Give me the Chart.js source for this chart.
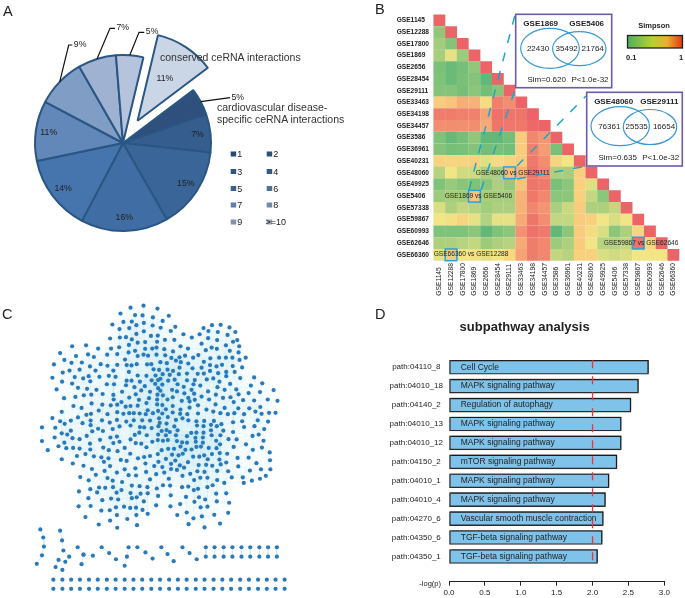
<!DOCTYPE html>
<html>
<head>
<meta charset="utf-8">
<title>ceRNA panels</title>
<script src="https://cdn.jsdelivr.net/npm/chart.js@4/dist/chart.umd.min.js"></script>
<style>
  html, body { margin: 0; padding: 0; background: #fff; }
  body { position: relative; width: 685px; height: 598px; overflow: hidden; }
  canvas { position: absolute; }
  #overlay { position: absolute; left: 0; top: 0; pointer-events: none; font-family: "Liberation Sans", Arial, sans-serif; }
</style>
</head>
<body>
<canvas id="pie-chart" style="left:0;top:0;width:350px;height:290px" width="350" height="290"></canvas>
<canvas id="heat-chart" style="left:370px;top:0;width:315px;height:305px" width="315" height="305"></canvas>
<canvas id="net-chart" style="left:0;top:290px;width:300px;height:308px" width="300" height="308"></canvas>
<canvas id="bar-chart" style="left:385px;top:310px;width:296px;height:288px" width="296" height="288"></canvas>

<svg id="overlay" width="685" height="598" viewBox="0 0 685 598">
  <defs>
    <linearGradient id="simpson-grad">
      <stop offset="0" stop-color="#4fb05f"/>
      <stop offset="0.45" stop-color="#b5d12f"/>
      <stop offset="0.72" stop-color="#eead2c"/>
      <stop offset="1" stop-color="#e03a12"/>
    </linearGradient>
  </defs>

  <g font-size="14.5" fill="#222">
    <text x="3" y="15.5">A</text>
    <text x="375" y="14">B</text>
    <text x="2" y="319">C</text>
    <text x="375" y="319">D</text>
  </g>

  <g font-size="10.5" fill="#333">
    <text x="160" y="61">conserved ceRNA interactions</text>
    <text x="217" y="110.5">cardiovascular disease-</text>
    <text x="217" y="123">specific ceRNA interactions</text>
  </g>

  <!-- dashed links from the picked cells to the venn boxes -->
  <g stroke="#1ba7cc" stroke-width="1.5" stroke-dasharray="9 10" fill="none">
    <line x1="469" y1="190" x2="515" y2="15"/>
    <line x1="481" y1="190" x2="515.7" y2="88"/>
    <line x1="517" y1="166" x2="586" y2="96"/>
    <line x1="517" y1="179" x2="587" y2="166"/>
  </g>

  <!-- venn box 1 -->
  <rect x="515.7" y="14.3" width="96" height="73.4" fill="#fff" stroke="#6a5bab" stroke-width="1.6"/>
  <g fill="none" stroke="#3a97d4" stroke-width="1.2">
    <ellipse cx="550" cy="48.3" rx="29.3" ry="20"/>
    <ellipse cx="579.3" cy="48.7" rx="26.7" ry="17"/>
  </g>
  <g font-size="8" fill="#222" text-anchor="middle">
    <text x="540.7" y="25.5" font-weight="bold">GSE1869</text>
    <text x="586.7" y="25.5" font-weight="bold">GSE5406</text>
    <text x="538" y="51">22430</text>
    <text x="566.7" y="51">35492</text>
    <text x="592.7" y="51">21764</text>
    <text x="546.7" y="81.5">Sim=0.620</text>
    <text x="590" y="81.5">P&lt;1.0e-32</text>
  </g>

  <!-- venn box 2 -->
  <rect x="586.7" y="92.3" width="95.6" height="73.7" fill="#fff" stroke="#6a5bab" stroke-width="1.6"/>
  <g fill="none" stroke="#3a97d4" stroke-width="1.2">
    <ellipse cx="620.2" cy="126.2" rx="29.2" ry="19.5"/>
    <ellipse cx="650" cy="127" rx="26.7" ry="17.5"/>
  </g>
  <g font-size="8" fill="#222" text-anchor="middle">
    <text x="613.7" y="104" font-weight="bold">GSE48060</text>
    <text x="659.3" y="104" font-weight="bold">GSE29111</text>
    <text x="609.3" y="129">76361</text>
    <text x="636.7" y="129">25535</text>
    <text x="664" y="129">16654</text>
    <text x="617.7" y="159.5">Sim=0.635</text>
    <text x="660.7" y="159.5">P&lt;1.0e-32</text>
  </g>

  <!-- colour key -->
  <text x="654" y="28" font-size="7.5" font-weight="bold" fill="#222" text-anchor="middle">Simpson</text>
  <rect x="627.5" y="35.5" width="55" height="12.5" fill="url(#simpson-grad)" stroke="#222" stroke-width="1.3"/>
  <text x="626" y="60" font-size="7.5" font-weight="bold" fill="#222">0.1</text>
  <text x="679" y="60" font-size="7.5" font-weight="bold" fill="#222">1</text>

  <text x="441" y="586" font-size="7.5" fill="#222" text-anchor="end">-log(p)</text>
</svg>

<script>
Chart.defaults.font.family = '"Liberation Sans", Arial, sans-serif';
Chart.defaults.animation = false;
Chart.defaults.plugins.legend.display = false;
Chart.defaults.plugins.tooltip.enabled = false;
Chart.defaults.events = [];

// ---- panel A data
const pieLabels = ['1', '2', '3', '4', '5', '6', '7', '8', '9', '>=10'];
const pieValues = [5, 7, 15, 16, 14, 11, 9, 7, 5, 11];
const pieColors = ['#2f4f7c', '#355d8e', '#3a6598', '#3f6da4', '#4675ad', '#6287b9', '#809dc5', '#9fb2d2', '#b5c4dc', '#cad5e6'];
const pieKeyColors = ['#2a4a72', '#2e5077', '#2f5580', '#335a87', '#3a6290', '#4d6f9b', '#627fa6', '#7488a8', '#8492ab', '#9aa4b8'];

// ---- panel B data: lower triangle of the Simpson matrix, one row per dataset
const gseNames = ['GSE1145', 'GSE12288', 'GSE17800', 'GSE1869', 'GSE2656', 'GSE28454', 'GSE29111', 'GSE33463', 'GSE34198', 'GSE34457',
  'GSE3586', 'GSE36961', 'GSE40231', 'GSE48060', 'GSE49925', 'GSE5406', 'GSE57338', 'GSE59867', 'GSE60993', 'GSE62646', 'GSE66360'];
const simpsonRows = [
  [1],
  [.31, 1],
  [.35, .28, 1],
  [.36, .48, .34, 1],
  [.26, .22, .25, .31, 1],
  [.27, .22, .26, .28, .2, 1],
  [.28, .28, .25, .3, .24, .29, 1],
  [.6, .62, .67, .66, .54, .83, .78, 1],
  [.84, .84, .83, .82, .7, .9, .88, .88, 1],
  [.78, .78, .77, .78, .68, .88, .87, .86, .96, 1],
  [.27, .21, .25, .31, .2, .2, .24, .6, .8, .74, 1],
  [.28, .25, .26, .28, .24, .26, .24, .6, .82, .72, .26, 1],
  [.57, .56, .56, .58, .47, .54, .56, .6, .85, .78, .56, .5, 1],
  [.4, .5, .44, .44, .38, .37, .63, .66, .88, .8, .38, .36, .58, 1],
  [.27, .33, .29, .27, .3, .38, .32, .62, .88, .85, .26, .3, .58, .47, 1],
  [.34, .36, .35, .62, .36, .36, .36, .66, .86, .8, .3, .3, .58, .42, .3, 1],
  [.46, .38, .42, .4, .35, .38, .38, .66, .8, .75, .37, .43, .6, .38, .38, .42, 1],
  [.5, .52, .56, .48, .39, .48, .48, .68, .88, .78, .42, .42, .6, .58, .5, .46, .5, 1],
  [.27, .27, .27, .3, .2, .27, .3, .76, .9, .85, .2, .3, .6, .54, .46, .3, .38, .56, 1],
  [.38, .38, .4, .42, .34, .38, .4, .68, .84, .8, .34, .38, .6, .5, .4, .4, .42, .9, .55, 1],
  [.48, .6, .5, .52, .48, .5, .55, .7, .84, .8, .42, .4, .58, .58, .46, .44, .46, .5, .5, .5, 1]
];
const simpsonStops = [.2, .3, .4, .5, .6, .7, .85, 1];
const simpsonColors = ['#62b877', '#8cc67a', '#b7d37f', '#f2e585', '#f9cb7c', '#f5a275', '#ef7a6b', '#ec6368'];
const pickedPairs = [['GSE1869', 'GSE5406'], ['GSE29111', 'GSE48060'], ['GSE12288', 'GSE66360'], ['GSE59867', 'GSE62646']];
const pickedTexts = ['GSE1869 vs GSE5406', 'GSE48060 vs GSE29111', 'GSE66360 vs GSE12288', 'GSE59867 vs GSE62646'];

// ---- panel C data: nodes read per crop of the picture, [x,y] at 3x inside each crop
const netOrigins = [[30, 295], [160, 295], [30, 415], [160, 415]];
const netNW = [[300,27],[340,21],[383,30],[269,45],[314,50],[337,51],[369,57],[278,71],[304,70],[244,79],[318,81],[341,74],[368,82],[266,93],[296,90],[341,100],[318,108],[363,114],[384,113],[237,122],[267,119],[286,118],[304,125],[322,135],[345,133],[382,132],[163,143],[120,146],[295,142],[240,153],[265,149],[200,153],[345,154],[367,153],[380,150],[83,167],[169,171],[132,176],[187,179],[228,172],[259,170],[294,165],[314,160],[322,176],[340,172],[354,175],[380,172],[96,188],[118,197],[150,196],[283,187],[64,202],[208,201],[229,206],[175,208],[259,203],[288,204],[303,205],[319,201],[351,202],[364,201],[112,221],[143,218],[192,221],[247,221],[295,225],[371,217],[388,219],[91,227],[128,241],[154,245],[171,238],[204,240],[233,237],[254,240],[322,236],[349,237],[377,236],[59,243],[89,255],[120,261],[176,254],[288,252],[303,252],[329,255],[365,251],[385,250],[227,263],[249,263],[286,266],[312,272],[344,269],[376,262],[72,279],[138,274],[166,277],[195,280],[274,286],[333,282],[360,286],[385,275],[95,306],[130,302],[156,297],[179,295],[214,293],[247,296],[316,294],[296,304],[357,306],[383,295],[124,330],[149,336],[180,322],[213,326],[239,328],[248,310],[272,318],[326,311],[349,321],[382,310],[88,348],[202,344],[259,326],[285,332],[300,330],[322,329],[353,343],[382,325],[164,357],[178,354],[229,355],[259,349],[278,354],[296,352],[310,352],[328,353],[347,355],[369,352],[385,345]];
const netNE = [[28,52],[9,68],[48,86],[3,89],[135,90],[161,81],[188,80],[215,88],[34,99],[73,109],[123,109],[150,99],[179,102],[209,111],[233,102],[16,126],[45,126],[99,119],[149,121],[177,127],[226,132],[239,127],[64,146],[129,138],[87,153],[204,143],[245,146],[160,150],[14,155],[41,162],[142,158],[176,154],[216,160],[243,165],[17,174],[36,182],[61,180],[78,175],[103,181],[119,173],[156,183],[183,181],[204,181],[224,181],[246,188],[265,181],[2,195],[22,198],[50,190],[65,195],[88,199],[136,194],[155,204],[175,208],[192,203],[225,207],[254,211],[24,218],[41,222],[61,212],[101,214],[129,212],[155,222],[205,225],[231,225],[9,232],[31,234],[59,232],[84,230],[117,231],[136,230],[180,229],[205,238],[2,246],[46,249],[26,252],[84,251],[108,250],[145,248],[165,245],[248,244],[291,242],[8,264],[55,263],[74,271],[125,267],[104,263],[184,255],[217,262],[316,260],[281,267],[38,280],[2,283],[53,285],[98,280],[178,272],[149,285],[200,280],[236,279],[351,281],[76,291],[106,292],[129,301],[10,297],[173,295],[243,294],[274,290],[309,287],[40,303],[24,310],[88,305],[218,303],[152,310],[333,310],[363,314],[291,313],[257,312],[195,305],[68,314],[92,316],[108,311],[228,318],[40,330],[8,327],[118,328],[172,325],[92,335],[200,336],[19,340],[144,341],[276,337],[242,337],[310,333],[295,347],[64,341],[63,354],[40,350],[8,353],[118,353],[165,347],[187,352],[210,355],[260,355],[337,351],[357,351],[314,354],[230,352],[85,355]];
const netSW = [[59,7],[83,17],[97,25],[116,15],[138,5],[152,23],[177,15],[177,29],[212,14],[236,21],[258,13],[287,18],[310,14],[336,14],[360,15],[388,8],[27,36],[68,37],[116,46],[88,54],[105,58],[182,48],[200,40],[215,47],[245,41],[266,33],[300,30],[329,35],[342,36],[365,38],[386,32],[66,67],[121,69],[143,72],[165,62],[206,74],[238,67],[258,64],[313,59],[327,52],[350,60],[385,58],[27,78],[96,83],[78,94],[175,86],[247,84],[266,80],[300,73],[316,84],[333,86],[349,97],[367,80],[384,75],[45,106],[102,100],[123,99],[143,101],[176,104],[216,98],[233,106],[260,109],[282,99],[88,134],[135,124],[161,118],[187,125],[210,128],[232,131],[299,117],[323,131],[342,127],[360,124],[384,118],[122,147],[155,154],[218,142],[237,155],[270,136],[288,139],[346,147],[373,155],[386,142],[181,164],[220,170],[258,175],[282,165],[315,162],[348,173],[145,189],[193,182],[229,192],[294,183],[317,184],[360,196],[379,180],[171,199],[245,200],[274,204],[203,221],[222,222],[246,220],[304,215],[328,217],[352,220],[381,224],[176,226],[141,233],[197,236],[272,229],[257,237],[300,238],[331,240],[353,239],[170,254],[213,260],[240,255],[262,258],[304,254],[319,251],[341,264],[385,247],[140,279],[177,278],[210,292],[236,291],[255,282],[280,280],[299,284],[317,283],[379,276],[161,312],[258,306],[337,290],[353,302],[318,306],[290,318],[237,323],[202,335],[259,345],[320,337]];
const netSE = [[0,22],[25,4],[50,13],[70,8],[88,14],[113,17],[137,16],[167,16],[190,26],[176,32],[21,24],[45,33],[115,30],[135,32],[158,28],[226,20],[254,17],[302,14],[334,18],[260,35],[292,32],[6,47],[21,44],[31,50],[55,45],[97,53],[113,52],[135,52],[158,45],[196,46],[226,50],[322,41],[19,60],[50,60],[84,63],[110,68],[133,67],[160,60],[187,60],[286,62],[305,58],[10,77],[25,75],[53,78],[69,82],[84,83],[111,80],[133,83],[174,77],[212,72],[237,73],[320,77],[64,95],[113,96],[127,95],[151,99],[186,88],[228,96],[266,88],[315,98],[6,106],[26,102],[44,102],[79,105],[98,104],[175,100],[287,105],[38,120],[58,122],[71,117],[103,126],[122,126],[137,122],[161,118],[185,115],[208,117],[339,113],[19,133],[48,138],[87,143],[148,134],[184,135],[240,130],[274,129],[340,137],[35,148],[62,153],[120,152],[143,151],[75,160],[188,150],[205,144],[298,146],[8,158],[35,164],[53,167],[162,154],[242,156],[312,165],[341,165],[14,175],[116,171],[138,173],[70,185],[94,179],[177,170],[211,171],[278,169],[327,185],[28,194],[125,191],[147,191],[106,198],[177,198],[222,190],[256,190],[309,194],[284,200],[10,214],[32,215],[69,220],[88,218],[118,225],[147,220],[163,214],[199,207],[259,207],[105,229],[34,245],[81,250],[174,240],[205,239],[121,251],[140,258],[107,265],[63,272],[176,264],[214,268],[33,279],[126,282],[147,280],[83,298],[54,306],[130,310],[168,305],[211,299],[104,316],[89,334],[186,332],[138,344]];

// small components under the big one, 3x from the panel corner at (0,290)
const fragOrigin = [0, 290];
const fragChains = [
  [[112,725],[121,750],[123,778],[117,805],[101,831]],
  [[173,729],[179,759],[183,790],[201,809],[189,825],[168,819],[159,841],[180,850]],
  [[227,780],[245,803],[274,806]],
  [[245,803],[239,832]],
  [[301,780],[324,798],[345,817]],
  [[384,780],[379,809],[372,837]],
  [[411,780],[436,796],[458,815]],
  [[485,780],[504,801],[523,823]],
  [[550,780],[572,798],[594,817]]
];
const fragPairX = [622, 649, 677, 704, 732, 759, 787, 814, 841];
const fragPairY = [780, 809];
const fragRowX = [152, 180, 207, 234, 262, 289, 317, 344, 372, 399, 426, 454, 481, 509, 536, 563, 591, 618, 646, 673, 700, 728, 755, 783, 810, 837, 865];
const fragRowY = [880, 908];

// ---- panel D data
const pathIds = ['path:04110_8', 'path:04010_18', 'path:04140_2', 'path:04010_13', 'path:04010_12', 'path:04150_2', 'path:04010_1', 'path:04010_4', 'path:04270_6', 'path:04350_6', 'path:04350_1'];
const pathNames = ['Cell Cycle', 'MAPK signaling pathway', 'Regulation of autophagy', 'MAPK signaling pathway', 'MAPK signaling pathway', 'mTOR signaling pathway', 'MAPK signaling pathway', 'MAPK signaling pathway', 'Vascular smooth muscle contraction', 'TGF-beta signaling pathway', 'TGF-beta signaling pathway'];
const logP = [2.78, 2.64, 2.535, 2.40, 2.40, 2.34, 2.23, 2.18, 2.15, 2.135, 2.07];
const logPCutoff = 2;

// ---------------- panel A
const explodedSlice = 9;
const explodeBy = 26.6;
// text radius for the percent labels that sit inside their slice
const insideLabels = { 1: 75, 2: 75, 3: 75, 4: 75, 5: 75, 9: 50 };
// leader lines run from the slice rim through these points
const leaderLines = {
  0: [[230, 97.7]],
  6: [[68.7, 45], [72.3, 45]],
  7: [[110, 28.3], [115, 28.3]],
  8: [[139, 32.3], [144.3, 32.3]]
};
const legendCols = [230.7, 266.7];
const legendRows = [154, 171.5, 188.5, 205, 222];

const pieDecorations = {
  id: 'pieDecorations',
  afterDatasetsUpdate(chart) {
    // the built in arc offset also grows the slice, so slide it out by hand
    const arc = chart.getDatasetMeta(0).data[explodedSlice];
    const mid = (arc.startAngle + arc.endAngle) / 2;
    arc.x += Math.cos(mid) * explodeBy;
    arc.y += Math.sin(mid) * explodeBy;
  },
  afterDraw(chart) {
    const ctx = chart.ctx;
    ctx.save();
    ctx.font = '8.7px "Liberation Sans"';
    ctx.fillStyle = '#222';
    ctx.textBaseline = 'middle';
    chart.getDatasetMeta(0).data.forEach((arc, i) => {
      const mid = (arc.startAngle + arc.endAngle) / 2;
      const text = pieValues[i] + '%';
      if (insideLabels[i]) {
        ctx.textAlign = 'center';
        ctx.fillText(text, arc.x + Math.cos(mid) * insideLabels[i], arc.y + Math.sin(mid) * insideLabels[i]);
        return;
      }
      const path = leaderLines[i];
      ctx.beginPath();
      ctx.moveTo(arc.x + Math.cos(mid) * arc.outerRadius, arc.y + Math.sin(mid) * arc.outerRadius);
      path.forEach(p => ctx.lineTo(p[0], p[1]));
      ctx.strokeStyle = '#111';
      ctx.lineWidth = 1.2;
      ctx.stroke();
      const end = path[path.length - 1];
      ctx.textAlign = 'left';
      ctx.fillText(text, end[0] + 1.5, end[1] - 0.5);
    });

    // two column legend
    ctx.font = '9px "Liberation Sans"';
    pieLabels.forEach((label, i) => {
      const x = legendCols[i % 2];
      const y = legendRows[Math.floor(i / 2)];
      ctx.fillStyle = pieKeyColors[i];
      ctx.fillRect(x, y - 2.5, 5.5, 5);
      ctx.fillStyle = '#222';
      ctx.fillText(label, x + 9, y + 1);
    });
    ctx.restore();
  }
};

new Chart(document.getElementById('pie-chart'), {
  type: 'pie',
  plugins: [pieDecorations],
  data: {
    labels: pieLabels,
    datasets: [{
      data: pieValues,
      backgroundColor: pieColors,
      borderColor: '#2a5684',
      borderWidth: 2
    }]
  },
  options: {
    responsive: false,
    rotation: 53,
    radius: 88,
    layout: { padding: { right: 104, bottom: 4 } }
  }
});

// ---------------- panel B
function simpsonColor(v) {
  const toRgb = hex => [1, 3, 5].map(i => parseInt(hex.substr(i, 2), 16));
  if (v <= simpsonStops[0]) return simpsonColors[0];
  for (let i = 1; i < simpsonStops.length; i++) {
    if (v <= simpsonStops[i]) {
      const t = (v - simpsonStops[i - 1]) / (simpsonStops[i] - simpsonStops[i - 1]);
      const a = toRgb(simpsonColors[i - 1]);
      const b = toRgb(simpsonColors[i]);
      return `rgb(${a.map((c, k) => Math.round(c + (b[k] - c) * t)).join(',')})`;
    }
  }
  return simpsonColors[simpsonColors.length - 1];
}

const heatCells = [];
simpsonRows.forEach((row, r) => {
  row.forEach((v, c) => heatCells.push({ x: gseNames[c], y: gseNames[r], v: v }));
});

// how far each pair's caption sits from its cell centre
const pickedShift = [[3.9, 0], [3.1, 0.6], [20, -1.1], [2.8, 0]];

const heatDecorations = {
  id: 'heatDecorations',
  afterDraw(chart) {
    const ctx = chart.ctx;
    const xs = chart.scales.x;
    const ys = chart.scales.y;
    const cell = xs.width / gseNames.length;
    ctx.save();

    // x labels read upwards from a common baseline, the axis can't do that
    ctx.font = '6.7px "Liberation Sans"';
    ctx.fillStyle = '#222';
    ctx.textBaseline = 'middle';
    ctx.textAlign = 'left';
    gseNames.forEach(name => {
      ctx.save();
      ctx.translate(xs.getPixelForValue(name), ys.bottom + 35);
      ctx.rotate(-Math.PI / 2);
      ctx.fillText(name, 0, 0);
      ctx.restore();
    });

    ctx.font = '6.6px "Liberation Sans"';
    ctx.textAlign = 'center';
    pickedPairs.forEach((pair, i) => {
      const x = xs.getPixelForValue(pair[0]);
      const y = ys.getPixelForValue(pair[1]);
      ctx.strokeStyle = '#29a3d9';
      ctx.lineWidth = 1.5;
      ctx.strokeRect(x - cell / 2, y - cell / 2, cell, cell);
      ctx.fillText(pickedTexts[i], x + pickedShift[i][0], y + pickedShift[i][1]);
    });
    ctx.restore();
  }
};

new Chart(document.getElementById('heat-chart'), {
  type: 'scatter',
  plugins: [heatDecorations],
  data: {
    datasets: [{
      data: heatCells,
      pointStyle: 'rect',
      pointBorderWidth: 0,
      pointBackgroundColor: ctx => simpsonColor(ctx.raw.v),
      pointRadius: ctx => ctx.chart.scales.x.width / gseNames.length / Math.SQRT2 + 0.1
    }]
  },
  options: {
    responsive: false,
    layout: { padding: { top: 14.5, left: 26.7, right: 5.8, bottom: 44.3 } },
    scales: {
      x: { type: 'category', labels: gseNames, offset: true, display: false },
      y: {
        type: 'category',
        labels: gseNames,
        offset: true,
        grid: { display: false },
        border: { display: false },
        afterFit: s => { s.width = 36.8; },
        ticks: {
          autoSkip: false,
          crossAlign: 'far',
          color: '#222',
          font: { size: 6.6, weight: 'bold' },
          padding: 0
        }
      }
    }
  }
});

// ---------------- panel C
const netNodes = [];
[netNW, netNE, netSW, netSE].forEach((nodes, q) => {
  nodes.forEach(n => netNodes.push({ x: netOrigins[q][0] + n[0] / 3, y: netOrigins[q][1] + n[1] / 3 }));
});
const fragPoint = p => ({ x: fragOrigin[0] + p[0] / 3, y: fragOrigin[1] + p[1] / 3 });

// single edges can't be told apart in the haze, so link close neighbours instead
const edgeReach = 32;
const netEdges = [];
netNodes.forEach((a, i) => {
  netNodes.slice(i + 1).forEach(b => {
    if (Math.hypot(a.x - b.x, a.y - b.y) < edgeReach) {
      netEdges.push(a, b, { x: NaN, y: NaN });
    }
  });
});

const fragEdges = [];
const fragNodes = [];
fragChains.forEach(chain => {
  chain.forEach(p => {
    fragEdges.push(fragPoint(p));
    fragNodes.push(fragPoint(p));
  });
  fragEdges.push({ x: NaN, y: NaN });
});
fragPairX.forEach(x => {
  fragPairY.forEach(y => {
    fragEdges.push(fragPoint([x, y]));
    fragNodes.push(fragPoint([x, y]));
  });
  fragEdges.push({ x: NaN, y: NaN });
});
fragRowY.forEach(y => {
  fragRowX.forEach(x => fragNodes.push(fragPoint([x, y])));
});

new Chart(document.getElementById('net-chart'), {
  type: 'scatter',
  data: {
    datasets: [
      { data: netNodes.concat(fragNodes), pointRadius: 2.1, pointBorderWidth: 0, pointBackgroundColor: '#2a7ab9', order: 1 },
      { data: netEdges, showLine: true, pointRadius: 0, borderColor: 'rgba(150,208,224,0.07)', borderWidth: 0.7, spanGaps: false, order: 2 },
      { data: fragEdges, showLine: true, pointRadius: 0, borderColor: '#cfe8f0', borderWidth: 0.8, spanGaps: false, order: 2 }
    ]
  },
  options: {
    responsive: false,
    scales: {
      x: { type: 'linear', min: 0, max: 300, display: false },
      y: { type: 'linear', min: 290, max: 598, reverse: true, display: false }
    }
  }
});

// ---------------- panel D
const barDecorations = {
  id: 'barDecorations',
  beforeDatasetsDraw(chart) {
    const ctx = chart.ctx;
    ctx.save();
    ctx.shadowColor = 'rgba(0,0,0,0.4)';
    ctx.shadowOffsetX = 1;
    ctx.shadowOffsetY = -1;
    ctx.shadowBlur = 0.5;
  },
  afterDatasetsDraw(chart) {
    const ctx = chart.ctx;
    ctx.restore();
    const xs = chart.scales.x;
    const ys = chart.scales.y;
    ctx.save();
    ctx.font = '8.5px "Liberation Sans"';
    ctx.fillStyle = '#222';
    ctx.textAlign = 'left';
    ctx.textBaseline = 'middle';
    pathNames.forEach((name, i) => {
      ctx.fillText(name, xs.getPixelForValue(0) + 11.7, ys.getPixelForValue(i));
    });
    ctx.strokeStyle = '#e8363c';
    ctx.lineWidth = 1.3;
    ctx.setLineDash([8, 8]);
    ctx.beginPath();
    ctx.moveTo(xs.getPixelForValue(logPCutoff), ys.getPixelForValue(0) - 7);
    ctx.lineTo(xs.getPixelForValue(logPCutoff), ys.getPixelForValue(pathIds.length - 1) + 7);
    ctx.stroke();
    ctx.restore();
  }
};

new Chart(document.getElementById('bar-chart'), {
  type: 'bar',
  plugins: [barDecorations],
  data: {
    datasets: [{
      data: logP.map((v, i) => ({ x: v, y: i })),
      backgroundColor: '#7fc2ea',
      borderColor: '#2b2b2b',
      borderWidth: 1.4,
      borderSkipped: false,
      barThickness: 14
    }]
  },
  options: {
    responsive: false,
    indexAxis: 'y',
    layout: { padding: { right: 16.7 } },
    plugins: {
      title: {
        display: true,
        text: 'subpathway analysis',
        color: '#222',
        font: { size: 13, weight: 'bold' },
        padding: { top: 9.2, bottom: 12.3 }
      }
    },
    scales: {
      x: {
        type: 'linear',
        min: 0,
        max: 3,
        afterFit: s => { s.height = 16.3; },
        grid: { drawOnChartArea: false, drawTicks: true, tickLength: 4, color: '#222' },
        border: { color: '#222', width: 1 },
        ticks: { stepSize: 0.5, padding: 2, color: '#222', font: { size: 8 }, maxRotation: 0, callback: v => v.toFixed(1) }
      },
      y: {
        type: 'linear',
        reverse: true,
        min: -0.5,
        max: 10.77,
        afterFit: s => { s.width = 64; },
        afterBuildTicks: s => { s.ticks = pathIds.map((_, i) => ({ value: i })); },
        grid: { display: false, drawTicks: false },
        border: { display: false },
        ticks: { crossAlign: 'center', padding: 6, color: '#222', font: { size: 8 }, autoSkip: false, callback: v => pathIds[v] }
      }
    }
  }
});
</script>
</body>
</html>
